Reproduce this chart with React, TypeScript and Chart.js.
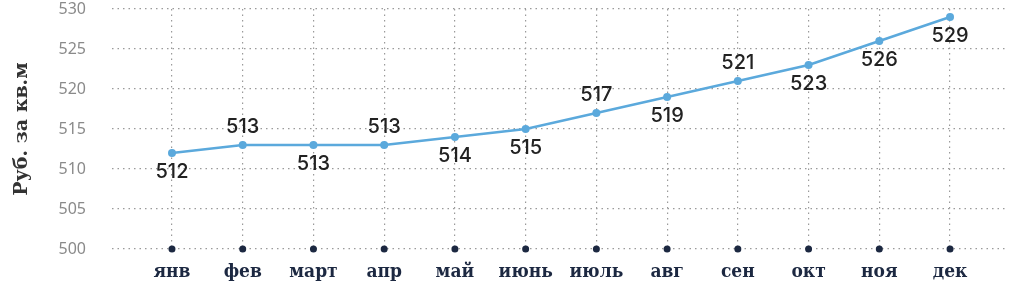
import React, { useEffect, useRef } from "react";
import { Chart, registerables } from "chart.js";

Chart.register(...registerables);

const months = ["янв", "фев", "март", "апр", "май", "июнь", "июль", "авг", "сен", "окт", "ноя", "дек"];
const prices = [512, 513, 513, 513, 514, 515, 517, 519, 521, 523, 526, 529];
const labelSide = ["below", "above", "below", "above", "below", "below", "above", "below", "above", "below", "below", "below"];
const yTicks = [500, 505, 510, 515, 520, 525, 530];
const baseValue = 500;
const yTitle = "Руб. за кв.м";

const valueLabels = {
  id: "valueLabels",
  afterDatasetsDraw(chart: any) {
    const meta = chart.getDatasetMeta(0);
    const ctx = chart.ctx;
    ctx.save();
    ctx.font = "500 20px Inter";
    ctx.fillStyle = "#222222";
    ctx.textAlign = "center";
    ctx.textBaseline = "middle";
    meta.data.forEach((pt: any, i: number) => {
      const dy = labelSide[i] === "above" ? -18 : 19;
      ctx.fillText(String(prices[i]), pt.x, pt.y + dy);
    });
    ctx.restore();
  },
};

export default function App() {
  const ref = useRef<HTMLCanvasElement>(null);
  useEffect(() => {
    document.body.style.margin = "0";
    const chart = new Chart(ref.current!, {
      type: "line",
      data: {
        datasets: [
          {
            data: prices.map((v, i) => ({ x: i, y: v })),
            borderColor: "#5ba9dc",
            backgroundColor: "#5ba9dc",
            borderWidth: 2.5,
            pointRadius: 4,
            pointBackgroundColor: "#5ba9dc",
            pointBorderWidth: 0,
            tension: 0,
            clip: false as any,
          },
          {
            data: months.map((_, i) => ({ x: i, y: baseValue })),
            showLine: false,
            pointRadius: 3.5,
            pointBackgroundColor: "#1c2841",
            pointBorderWidth: 0,
            clip: false as any,
          },
        ],
      },
      options: {
        responsive: false,
        animation: false,
        events: [],
        layout: { padding: { top: 9, right: 19, left: 0, bottom: 0 } },
        plugins: { legend: { display: false }, tooltip: { enabled: false } },
        scales: {
          x: {
            type: "linear",
            min: -0.848,
            max: 11.777,
            afterFit: (s: any) => {
              s.height = 53;
              s.paddingLeft = 0;
              s.paddingRight = 0;
            },
            border: { display: false, dash: [1.5, 4] },
            grid: {
              color: "#9a9a9a",
              lineWidth: 1.2,
              drawTicks: false,
            },
            ticks: {
              stepSize: 1,
              includeBounds: false,
              autoSkip: false,
              maxRotation: 0,
              padding: 12,
              color: "#1c2841",
              font: { family: "'DejaVu Serif Condensed', 'DejaVu Serif'", weight: "bold", size: 19 },
              callback: (v: any) => months[v] ?? "",
            },
          },
          y: {
            min: 500,
            max: 530,
            afterFit: (s: any) => {
              s.width = 112;
              s.paddingTop = 0;
              s.paddingBottom = 0;
            },
            afterBuildTicks: (s: any) => {
              s.ticks = yTicks.map((v) => ({ value: v }));
            },
            border: { display: false, dash: [1.5, 4] },
            grid: {
              color: "#9a9a9a",
              lineWidth: 1.2,
              drawTicks: false,
            },
            ticks: {
              padding: 26,
              color: "#8a8a8a",
              font: { family: "Noto Sans", size: 16 },
            },
            title: {
              display: true,
              text: yTitle,
              color: "#333333",
              padding: { top: 11, bottom: 0 },
              font: { family: "DejaVu Serif", weight: "bold", size: 19 },
            },
          },
        },
      },
      plugins: [valueLabels],
    });
    return () => chart.destroy();
  }, []);
  return <canvas ref={ref} width={1024} height={302} style={{ display: "block" }} />;
}
